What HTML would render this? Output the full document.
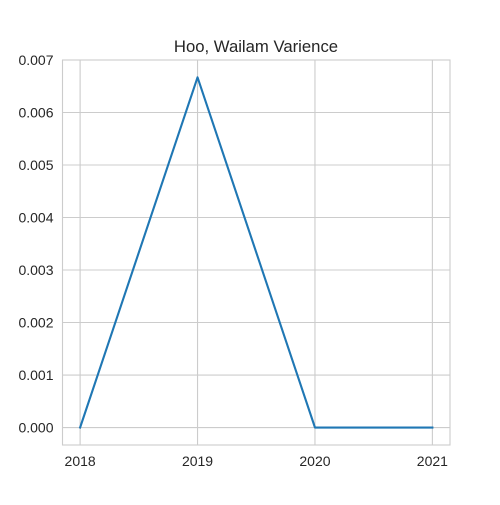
<!DOCTYPE html>
<html><head><meta charset="utf-8"><style>
html,body{margin:0;padding:0;background:#fff;}
svg text{font-family:"Liberation Sans",Arial,sans-serif;fill:#262626;}
</style></head><body>
<svg id="chart" width="500" height="500" viewBox="0 0 500 500" xmlns="http://www.w3.org/2000/svg">
<rect width="500" height="500" fill="#fff"/>
<text x="256" y="52" font-size="16.7" text-anchor="middle">Hoo, Wailam Varience</text>
<g id="grid"></g>
<g id="series"></g>
<rect x="62.5" y="60" width="387.5" height="385" fill="none" stroke="#cccccc" stroke-width="1.1"/>
<g id="ticks"></g>
</svg>
<script>
const years = [2018, 2019, 2020, 2021];
const values = [0.0, 0.00667, 0.0, 0.0];
const yTicks = [0, 0.001, 0.002, 0.003, 0.004, 0.005, 0.006, 0.007];
const yTickLabels = ["0.000","0.001","0.002","0.003","0.004","0.005","0.006","0.007"];

const L=62.5,R=450,T=60,B=445;
const xMin=2017.85,xMax=2021.15,yMin=-0.000333,yMax=0.007;
const xs=v=>L+(v-xMin)/(xMax-xMin)*(R-L);
const ys=v=>B-(v-yMin)/(yMax-yMin)*(B-T);
const NS="http://www.w3.org/2000/svg";
const grid=document.getElementById('grid'),ticks=document.getElementById('ticks'),series=document.getElementById('series');
function mk(tag,attrs,parent){const e=document.createElementNS(NS,tag);for(const k in attrs)e.setAttribute(k,attrs[k]);parent.appendChild(e);return e;}
years.forEach(y=>{
  const g=mk('line',{x1:xs(y),x2:xs(y),y1:T,y2:B,stroke:'#cccccc','stroke-width':1.1},grid);
  
  
  const t=mk('text',{x:xs(y),y:B+21,'font-size':14,'text-anchor':'middle'},ticks);
  t.textContent=y;
  
  
});
yTicks.forEach((v,i)=>{
  const g=mk('line',{x1:L,x2:R,y1:ys(v),y2:ys(v),stroke:'#cccccc','stroke-width':1.1},grid);
  
  
  const t=mk('text',{x:L-9,y:ys(v)+5,'font-size':14,'text-anchor':'end'},ticks);
  t.textContent=yTickLabels[i];
  
  
});
const p=mk('polyline',{points:years.map((y,i)=>xs(y)+','+ys(values[i])).join(' '),fill:'none',stroke:'#1f77b4','stroke-width':2.1,'stroke-linejoin':'round','stroke-linecap':'square'},series);


</script>
</body></html>
